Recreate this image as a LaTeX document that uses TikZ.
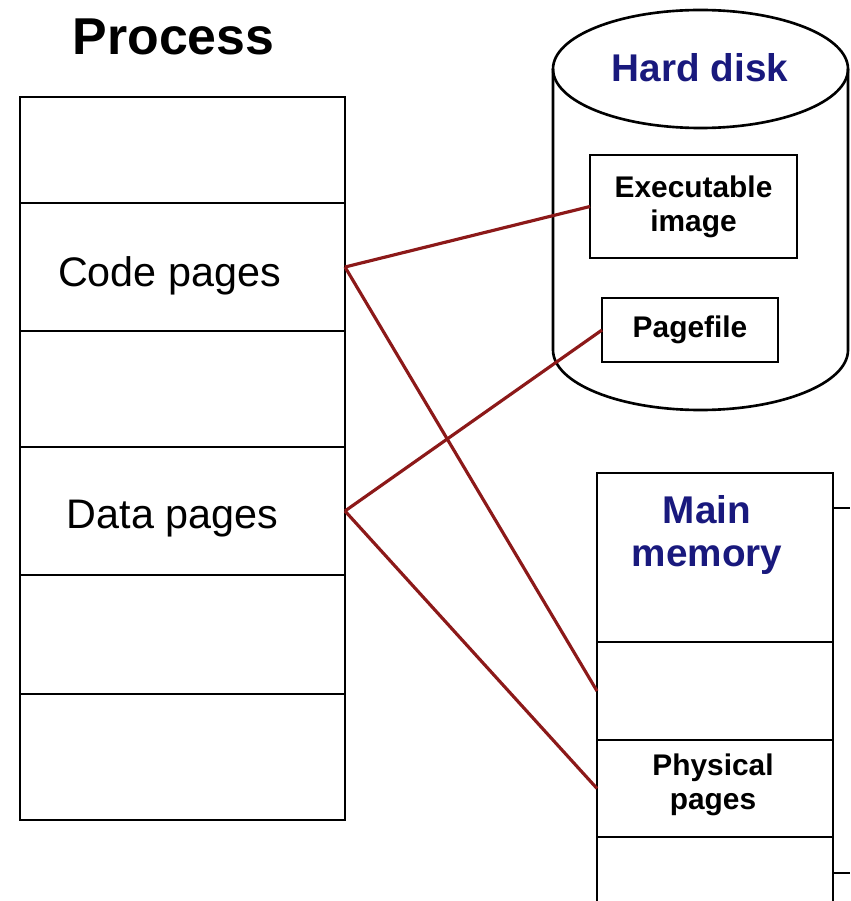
\documentclass[tikz,border=0pt]{standalone}
\usepackage{fontspec}
\setmainfont{Liberation Sans}
\definecolor{diskblue}{RGB}{25,25,125}
\definecolor{linkred}{RGB}{140,25,25}

\begin{document}
\begin{tikzpicture}[
    box/.style={draw, line width=1.5pt, inner sep=0pt, outer sep=0pt},
    row/.style={box, minimum width=6.5cm, anchor=north west},
    memrow/.style={box, minimum width=4.72cm, anchor=north west},
    pagetext/.style={font=\fontsize{23.5}{26}\selectfont},
    small/.style={font=\bfseries\fontsize{17}{19.5}\selectfont, align=center},
    big/.style={font=\bfseries\fontsize{22}{25}\selectfont, text=diskblue, align=center},
    link/.style={draw=linkred, line width=1.8pt},
  ]
    \useasboundingbox (0,0) rectangle (17,-18.02);

    \node[font=\bfseries\fontsize{29.5}{32}\selectfont, anchor=base] (title) at (3.47,-1.1) {Process};

    % process pages
    \node[row, minimum height=2.12cm] (p1) at (0.4,-1.94) {};
    \node[row, minimum height=2.56cm] (code) at (p1.south west) {};
    \node[row, minimum height=2.32cm] (p3) at (code.south west) {};
    \node[row, minimum height=2.56cm] (data) at (p3.south west) {};
    \node[row, minimum height=2.38cm] (p5) at (data.south west) {};
    \node[row, minimum height=2.52cm] (p6) at (p5.south west) {};
    \node[pagetext] (codetxt) at ([xshift=-0.26cm,yshift=-0.18cm]code.center) {Code pages};
    \node[pagetext] (datatxt) at ([xshift=-0.2cm,yshift=-0.15cm]data.center) {Data pages};

    % hard disk
    \draw[line width=1.5pt] (11.06,-1.38) -- (11.06,-7.0) arc[start angle=180, end angle=360, x radius=2.95cm, y radius=1.2cm] -- (16.96,-1.38);
    \draw[line width=1.5pt] (14.01,-1.38) ellipse[x radius=2.95cm, y radius=1.18cm];
    \node[big] (disk) at (14.0,-1.36) {Hard disk};
    \node[box, small, minimum width=4.14cm, minimum height=2.06cm] (exe) at (13.87,-4.13) {Executable\\image};
    \node[box, small, minimum width=3.52cm, minimum height=1.28cm] (pfile) at (13.8,-6.6) {Pagefile};

    % main memory
    \node[memrow, minimum height=3.38cm] (mem) at (11.94,-9.46) {};
    \node[memrow, minimum height=1.96cm] (slot) at (mem.south west) {};
    \node[memrow, minimum height=1.94cm] (phys) at (slot.south west) {};
    \node[memrow, minimum height=1.6cm] (m4) at (phys.south west) {};
    \node[big] (memlabel) at (14.14,-10.7) {Main\\memory};
    \node[small] (physlabel) at (14.26,-15.7) {Physical\\pages};
    \draw[line width=1.5pt] ([yshift=-0.7cm]mem.north east) -- ++(0.34,0);
    \draw[line width=1.5pt] ([yshift=-0.72cm]phys.south east) -- ++(0.34,0);

    % links
    \draw[link] (code.east) -- (exe.west);
    \draw[link] (code.east) -- (slot.west);
    \draw[link] (data.east) -- (pfile.west);
    \draw[link] (data.east) -- (phys.west);
  \end{tikzpicture}
\end{document}
